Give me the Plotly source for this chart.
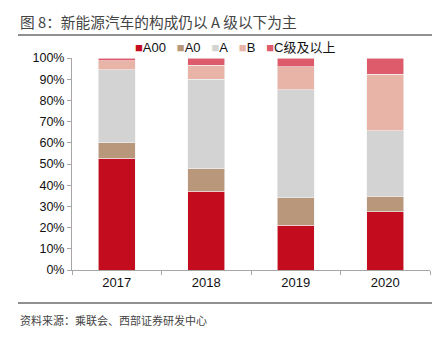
import plotly.graph_objects as go

years = ["2017", "2018", "2019", "2020"]
series_names = ["A00", "A0", "A", "B", "C级及以上"]
a00 = [52.7, 37.1, 21.2, 27.5]
a0 = [7.4, 10.7, 12.8, 7.4]
a = [34.4, 42.2, 51.1, 30.7]
b = [4.1, 6.6, 10.7, 26.7]
c = [1.4, 3.4, 4.2, 7.7]
colors = ["#C30D1E", "#B9977A", "#D3D3D3", "#E9B4A8", "#DE5B6B"]
y_ticks = [0, 10, 20, 30, 40, 50, 60, 70, 80, 90, 100]

fig = go.Figure()
for name, vals, col in zip(series_names, [a00, a0, a, b, c], colors):
    fig.add_trace(go.Bar(
        x=years, y=vals, name=name,
        marker=dict(color=col, line=dict(color="#F4F4F4", width=0.6)),
        width=0.415, showlegend=False,
    ))

font_cn = "Noto Sans CJK SC"
PH = 212.0
PW = 358.0

def py(pix):
    return 1 + (58 - pix) / PH

def px(pix):
    return (pix - 72) / PW

legend_html = "&nbsp;&nbsp;&nbsp;".join(
    f"<span style='color:{col}'>■</span>{name}" for name, col in zip(series_names, colors)
)

fig.update_layout(
    barmode="stack",
    width=445, height=339,
    margin=dict(l=72, r=15, t=58, b=69),
    paper_bgcolor="white", plot_bgcolor="white",
    font=dict(family="Liberation Sans, Arial", color="#222"),
    showlegend=False,
    bargap=0.585,
    xaxis=dict(type="category", showline=True, linecolor="#A6A6A6", linewidth=1,
               ticks="outside", tickson="boundaries", ticklen=4, tickcolor="#A6A6A6",
               tickfont=dict(size=13, color="#111"), showgrid=False),
    yaxis=dict(range=[0, 100], tickvals=y_ticks, ticktext=[f"{v}%" for v in y_ticks],
               showline=True, linecolor="#A6A6A6", linewidth=1, ticks="outside",
               ticklen=4, tickcolor="#A6A6A6", showgrid=False, zeroline=False,
               tickfont=dict(size=12.5, color="#111")),
    shapes=[
        dict(type="line", xref="paper", yref="paper", x0=px(18), x1=px(432),
             y0=py(35), y1=py(35), line=dict(color="#222", width=1)),
        dict(type="line", xref="paper", yref="paper", x0=px(18), x1=px(432),
             y0=py(303), y1=py(303), line=dict(color="#222", width=1)),
    ],
    annotations=[
        dict(text="图 8：新能源汽车的构成仍以 A 级以下为主", xref="paper", yref="paper",
             x=px(18), y=py(21), xanchor="left", yanchor="middle",
             showarrow=False, font=dict(size=14.7, family=font_cn, color="#444")),
        dict(text=legend_html, xref="paper", yref="paper",
             x=px(133), y=py(48), xanchor="left", yanchor="middle",
             showarrow=False, font=dict(size=13, family="Liberation Sans, " + font_cn, color="#111")),
        dict(text="资料来源：乘联会、西部证券研发中心", xref="paper", yref="paper",
             x=px(18), y=py(320), xanchor="left", yanchor="middle",
             showarrow=False, font=dict(size=11, family=font_cn, color="#444")),
    ],
)

fig.write_html("out.html")
